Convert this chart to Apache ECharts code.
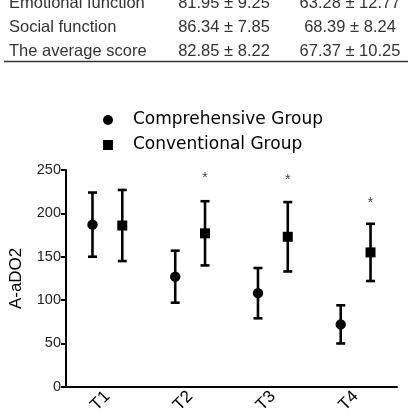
<!DOCTYPE html>
<html>
<head>
<meta charset="utf-8">
<script src="https://cdn.jsdelivr.net/npm/echarts@6/dist/echarts.min.js"></script>
<style>html,body{margin:0;padding:0;background:#fff;}#c{width:408px;height:416px;}</style>
</head>
<body>
<div id="c"></div>
<script>
// Table fragment (text above the chart)
var tableLabels = ['Emotional function', 'Social function', 'The average score'];
var tableComp = ['81.95 ± 9.25', '86.34 ± 7.85', '82.85 ± 8.22'];
var tableConv = ['63.28 ± 12.77', '68.39 ± 8.24', '67.37 ± 10.25'];

// Chart data
var categories = ['T1', 'T2', 'T3', 'T4'];
var compMean = [187, 127, 108, 72];
var compErr = [37, 30, 29, 22];
var convMean = [186, 177, 173, 155];
var convErr = [41, 37, 40, 33];
var sigMarks = [null, 244, 242, 215];
var yTicks = [0, 50, 100, 150, 200, 250];

var chart = echarts.init(document.getElementById('c'), null, {renderer: 'canvas'});

function makeData(mean, err) {
  return mean.map(function (m, i) { return [i, m, err[i]]; });
}

function errRender(shape, sign) {
  return function (params, api) {
    var i = api.value(0), m = api.value(1), e = api.value(2);
    var off = sign * api.size([1, 0])[0] * 0.18;
    var c = api.coord([i, m]);
    var hi = api.coord([i, m + e]);
    var lo = api.coord([i, m - e]);
    var x = c[0] + off;
    var st = {stroke: '#000', lineWidth: 2.6};
    var marker = shape === 'circle'
      ? {type: 'circle', shape: {cx: x, cy: c[1], r: 5.2}, style: {fill: '#000'}}
      : {type: 'rect', shape: {x: x - 5, y: c[1] - 5, width: 10, height: 10}, style: {fill: '#000'}};
    return {
      type: 'group',
      children: [
        {type: 'line', shape: {x1: x, y1: hi[1], x2: x, y2: lo[1]}, style: st},
        {type: 'line', shape: {x1: x - 4.5, y1: hi[1], x2: x + 4.5, y2: hi[1]}, style: st},
        {type: 'line', shape: {x1: x - 4.5, y1: lo[1], x2: x + 4.5, y2: lo[1]}, style: st},
        marker
      ]
    };
  };
}

function starRender(params, api) {
  var i = api.value(0), v = api.value(1);
  var off = api.size([1, 0])[0] * 0.18;
  var c = api.coord([i, v]);
  return {
    type: 'text',
    x: c[0] + off, y: c[1] + 3,
    style: {text: '*', fill: '#444', font: '14px "Liberation Sans", Arial, sans-serif', align: 'center', verticalAlign: 'middle'}
  };
}

var graphics = [];
var rowMid = [3, 27, 51];
for (var r = 0; r < tableLabels.length; r++) {
  var font = '16.5px "Liberation Sans", Arial, sans-serif';
  graphics.push({type: 'text', x: 9, y: rowMid[r], style: {text: tableLabels[r], fill: '#333', font: font, align: 'left', verticalAlign: 'middle'}});
  graphics.push({type: 'text', x: 224, y: rowMid[r], style: {text: tableComp[r], fill: '#333', font: font, align: 'center', verticalAlign: 'middle'}});
  graphics.push({type: 'text', x: 350, y: rowMid[r], style: {text: tableConv[r], fill: '#333', font: font, align: 'center', verticalAlign: 'middle'}});
}
graphics.push({type: 'line', shape: {x1: 4, y1: 61.5, x2: 408, y2: 61.5}, style: {stroke: '#333', lineWidth: 1.5}});

chart.setOption({
  animation: false,
  backgroundColor: '#fff',
  graphic: graphics,
  legend: {
    orient: 'vertical',
    left: 98, top: 105,
    itemWidth: 10, itemHeight: 10, itemGap: 5,
    data: [
      {name: 'Comprehensive Group', icon: 'circle'},
      {name: 'Conventional Group', icon: 'rect'}
    ],
    itemStyle: {color: '#000'},
    textStyle: {fontFamily: '"DejaVu Sans", Verdana, sans-serif', fontSize: 17, color: '#000', lineHeight: 20, padding: [0, 0, 0, 15]}
  },
  grid: {left: 63, right: 11, top: 170, bottom: 28.5, containLabel: false},
  xAxis: {
    type: 'category',
    data: categories,
    boundaryGap: true,
    axisLine: {lineStyle: {color: '#000', width: 2}},
    axisTick: {alignWithLabel: true, length: 5, lineStyle: {color: '#000', width: 2}},
    axisLabel: {rotate: 45, margin: 7, fontSize: 17, fontFamily: 'Arial, "Liberation Sans", sans-serif', color: '#000'},
    splitLine: {show: false}
  },
  yAxis: {
    type: 'value',
    min: 0, max: 250, interval: 50,
    name: 'A-aDO2',
    nameLocation: 'middle',
    nameGap: 41,
    nameTextStyle: {fontSize: 17, fontFamily: 'Arial, "Liberation Sans", sans-serif', color: '#000'},
    axisLine: {show: true, lineStyle: {color: '#000', width: 2}},
    axisTick: {show: true, length: 5, lineStyle: {color: '#000', width: 2}},
    axisLabel: {margin: 5, fontSize: 14.5, fontFamily: 'Arial, "Liberation Sans", sans-serif', color: '#222',
      formatter: function (v) { return yTicks.indexOf(v) >= 0 ? String(v) : ''; }},
    splitLine: {show: false}
  },
  series: [
    {name: 'Comprehensive Group', type: 'custom', renderItem: errRender('circle', -1), data: makeData(compMean, compErr), itemStyle: {color: '#000'}, encode: {x: 0, y: 1}, z: 3},
    {name: 'Conventional Group', type: 'custom', renderItem: errRender('rect', 1), data: makeData(convMean, convErr), itemStyle: {color: '#000'}, encode: {x: 0, y: 1}, z: 3},
    {name: 'sig', type: 'custom', renderItem: starRender,
      data: sigMarks.map(function (v, i) { return v == null ? [i, '-'] : [i, v]; }).filter(function (d) { return d[1] !== '-'; }),
      encode: {x: 0, y: 1}, z: 3}
  ]
});
</script>
</body>
</html>
